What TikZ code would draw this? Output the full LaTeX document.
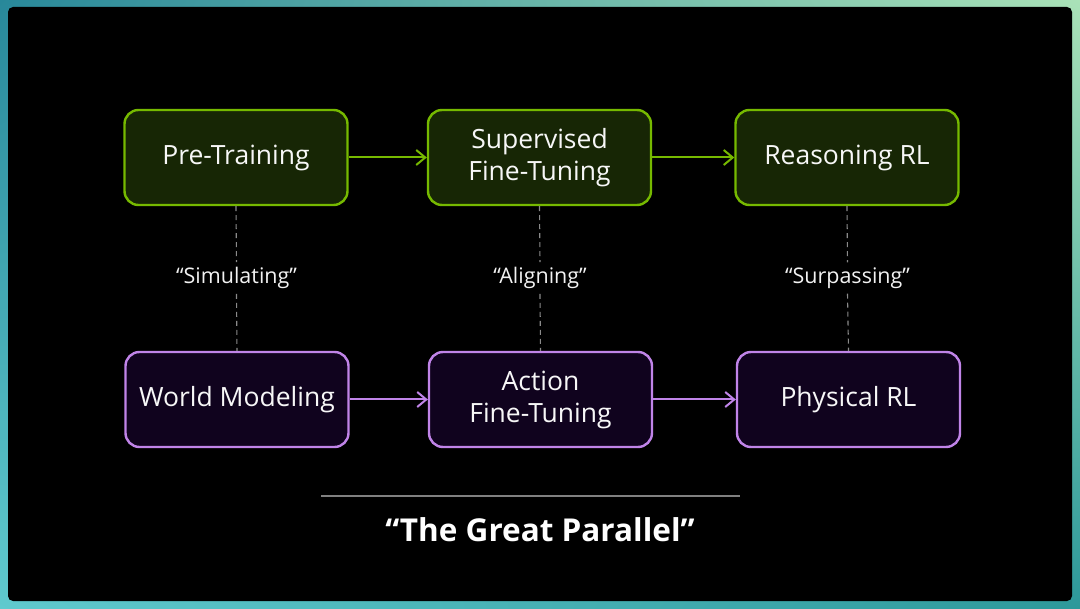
\documentclass[tikz,border=0pt]{standalone}
\usepackage{fontspec}
\setmainfont{Open Sans}
\usetikzlibrary{arrows.meta,shadings}
\definecolor{nvgreen}{HTML}{76B900}
\definecolor{greenfill}{HTML}{172605}
\definecolor{lilac}{HTML}{C084E8}
\definecolor{purplefill}{HTML}{10031E}
\definecolor{dashgray}{HTML}{8A8A8A}
\definecolor{tealtl}{HTML}{28889A}
\definecolor{mintr}{HTML}{AAE2B8}
\definecolor{cyanbl}{HTML}{60CACE}
\definecolor{tealbr}{HTML}{2C989A}
\tikzset{
    stagebox/.style={rectangle, rounded corners=14pt, line width=2.4pt, minimum width=223pt,
        minimum height=95pt, align=center, text=white!94!gray, font=\fontsize{26.5}{32}\selectfont},
    greenbox/.style={stagebox, draw=nvgreen, fill=greenfill},
    purplebox/.style={stagebox, draw=lilac, fill=purplefill},
    flow/.style={line width=2pt, -{Straight Barb[length=9pt,width=15pt,line width=2pt]}},
    pairlabel/.style={text=white!90!gray, font=\fontsize{21.5}{24}\selectfont, inner sep=5pt},
    pairline/.style={dashgray, line width=1.1pt, dash pattern=on 5pt off 4pt}
}
\begin{document}
\begin{tikzpicture}[x=1pt,y=-1pt]
    \useasboundingbox (0,0) rectangle (1080,609);
    % backdrop
    \shade[upper left=tealtl, upper right=mintr, lower left=cyanbl, lower right=tealbr]
        (0,0) rectangle (1080,609);
    \fill[black, rounded corners=5pt] (8,7) rectangle (1072,601);
    % language model stages
    \node[greenbox] (pretrain) at (236,157.5) {Pre-Training};
    \node[greenbox] (sft) at (539.5,157.5) {Supervised\\Fine-Tuning};
    \node[greenbox] (reasonrl) at (847,157.5) {Reasoning RL};
    % robot stages
    \node[purplebox] (worldmodel) at (237,399.5) {World Modeling};
    \node[purplebox] (actionft) at (540.5,399.5) {Action\\Fine-Tuning};
    \node[purplebox] (physrl) at (848.5,399.5) {Physical RL};
    \draw[flow, nvgreen] (pretrain) -- (sft);
    \draw[flow, nvgreen] (sft) -- (reasonrl);
    \draw[flow, lilac] (worldmodel) -- (actionft);
    \draw[flow, lilac] (actionft) -- (physrl);
    % the parallels
    \node[pairlabel] (simlabel) at (236.5,278) {“Simulating”};
    \node[pairlabel] (alignlabel) at (540,278) {“Aligning”};
    \node[pairlabel] (surplabel) at (847.5,278) {“Surpassing”};
    \foreach \up/\mid/\down in {pretrain/simlabel/worldmodel, sft/alignlabel/actionft, reasonrl/surplabel/physrl}
        {
            \draw[pairline] (\up.south) -- (\mid.north);
            \draw[pairline] (\mid.south) -- (\down.north);
        }
    % title
    \coordinate (ruleleft) at (321,496);
    \coordinate (ruleright) at (740,496);
    \draw[gray, line width=1.1pt] (ruleleft) -- (ruleright);
    \node[text=white, font=\fontsize{31.5}{36}\selectfont\bfseries] (title) at (540,530) {“The Great Parallel”};
\end{tikzpicture}
\end{document}
